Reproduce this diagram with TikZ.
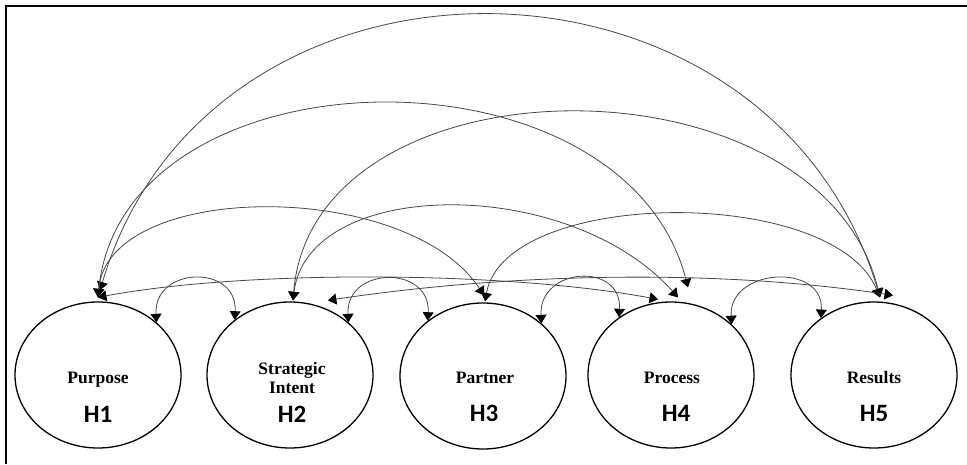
\documentclass[tikz,border=0pt]{standalone}
\usepackage{fontspec}
\setmainfont{Liberation Serif}
\newfontfamily\hfont{Carlito}
\usetikzlibrary{arrows.meta,shapes.geometric}
\begin{document}
\begin{tikzpicture}[x=1pt,y=-1pt,
  factor/.style={ellipse,draw=black,line width=1.3pt,minimum width=166pt,minimum height=146pt,inner sep=0pt},
  wlabel/.style={font=\bfseries\fontsize{17.5}{19}\selectfont,inner sep=0pt,anchor=base,align=center},
  hlabel/.style={font=\hfont\bfseries\fontsize{25}{28}\selectfont,inner sep=0pt,anchor=base},
  cov/.style={draw=black!72,line width=0.8pt,
    {Triangle[width=11pt,length=8.5pt,color=black]}-{Triangle[width=11pt,length=8.5pt,color=black]}}]
\useasboundingbox (0,0) rectangle (967,464);
\draw[line width=2pt] (6,464) -- (6,6) -- (967,6);

\node[factor] (h1) at (98,375) {};
\node[factor] (h2) at (290,375) {};
\node[factor] (h3) at (483,376) {};
\node[factor] (h4) at (671,375) {};
\node[factor] (h5) at (874,375) {};

\node[wlabel] (t1) at (98,383) {Purpose};
\node[wlabel,anchor=north] (t2) at (292,362) {Strategic\\Intent};
\node[wlabel] (t3) at (485,383) {Partner};
\node[wlabel] (t4) at (672,383) {Process};
\node[wlabel] (t5) at (874,383) {Results};
\node[hlabel] (n1) at (98,422) {H1};
\node[hlabel] (n2) at (292,422) {H2};
\node[hlabel] (n3) at (484,421) {H3};
\node[hlabel] (n4) at (676,421) {H4};
\node[hlabel] (n5) at (874,421) {H5};

% arrow end points on the factors
\coordinate (a1) at ([xshift=2pt,yshift=11pt]h1.north);
\coordinate (b1) at ([yshift=4pt]h1.north);
\coordinate (a2) at ([xshift=3pt,yshift=1pt]h2.north);
\coordinate (l2) at ([yshift=9pt]h2.60);
\coordinate (a3) at ([xshift=1pt,yshift=7pt]h3.north);
\coordinate (b3) at ([xshift=2pt,yshift=1pt]h3.north);
\coordinate (l4) at ([xshift=-13pt,yshift=2pt]h4.north);
\coordinate (a4) at ([xshift=7pt,yshift=4pt]h4.north);
\coordinate (c4) at ([xshift=17pt,yshift=14pt]h4.north);
\coordinate (a5) at ([xshift=6pt,yshift=4pt]h5.north);
\coordinate (l5) at ([xshift=19pt,yshift=6pt]h5.north);

% large arcs
\draw[cov] (a1) .. controls +(110,-371) and +(-110,-371) .. (a5);
\draw[cov] (b1) .. controls +(25,-251) and +(-65,-251) .. (c4);
\draw[cov] (a2) .. controls +(20,-248) and +(-60,-248) .. (a5);
% middle arcs
\draw[cov] (b1) .. controls +(10,-117) and +(-77,-117) .. (a3);
\draw[cov] (a2) .. controls +(15,-123) and +(-110,-123) .. (a4);
\draw[cov] (b3) .. controls +(20,-113) and +(-47,-113) .. (a5);
% long flat lines
\draw[cov] (b1) .. controls +(150,-28) and +(-150,-28) .. (l4);
\draw[cov] (l2) .. controls +(180,-27) and +(-180,-27) .. (l5);
% neighbour humps
\draw[cov] (h1.42) .. controls +(-3,-56) and +(3,-56) .. (h2.135);
\draw[cov] (h2.42) .. controls +(-3,-56) and +(3,-56) .. (h3.135);
\draw[cov] (h3.42) .. controls +(-3,-56) and +(3,-56) .. (h4.132);
\draw[cov] (h4.40) .. controls +(-3,-56) and +(3,-56) .. (h5.133);
\end{tikzpicture}
\end{document}
